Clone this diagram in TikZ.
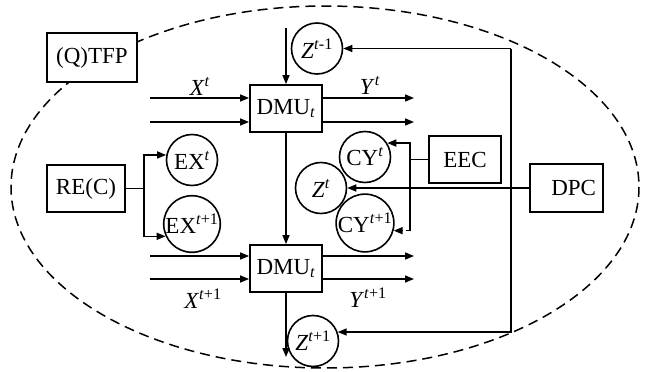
\documentclass[tikz,border=0pt]{standalone}
\usepackage{fontspec}
\setmainfont{Liberation Serif}
\usetikzlibrary{arrows.meta,calc}
\newcommand{\sps}[1]{\textsuperscript{#1}}
\begin{document}
\begin{tikzpicture}[x=1pt,y=-1pt, line width=1.6pt,
  >={Triangle[length=9pt,width=7pt]},
  box/.style={draw, fill=white, line width=1.8pt, inner sep=0pt, font=\fontsize{23}{25}\selectfont},
  circ/.style={draw, circle, fill=white, line width=1.6pt, minimum size=51pt, inner sep=0pt, font=\fontsize{23}{25}\selectfont},
  lab/.style={inner sep=0pt, font=\fontsize{23}{25}\selectfont}]
\useasboundingbox (0,0) rectangle (646,372);
\draw[line width=1.5pt, dash pattern=on 10pt off 6pt] (325,187) ellipse [x radius=314, y radius=181];

% boxes
\node[box, minimum width=90pt, minimum height=49pt] (tfp) at (92,57.5) {(Q)TFP};
\node[box, minimum width=72pt, minimum height=47pt] (dmu1) at (286,108.5) {DMU\textsubscript{\textit{t}}};
\node[box, minimum width=72pt, minimum height=47pt] (dmu2) at (286,268.5) {DMU\textsubscript{\textit{t}}};
\node[box, minimum width=78pt, minimum height=47pt] (rec) at (86,188.5) {RE(C)};
\node[box, minimum width=72pt, minimum height=47pt] (eec) at (465,159.5) {EEC};
\node[box, minimum width=73pt, minimum height=48pt, text width=59pt, align=right] (dpc) at (566.5,188) {DPC};

% circles
\node[circ] (zm1) at (317,48.5) {\textit{Z}\sps{\textit{t}-1}};
\node[circ] (zt) at (321,188) {\textit{Z}\sps{\textit{t}}};
\node[circ] (zp1) at (313,341) {\textit{Z}\sps{\textit{t}+1}};
\node[circ] (ext) at (192,160) {EX\sps{\textit{t}}};
\node[circ] (exp1) at (192,224) {EX\sps{\textit{t}+1}};
\node[circ] (cyt) at (365,157) {CY\sps{\textit{t}}};
\node[circ] (cyp1) at (365,223) {CY\sps{\textit{t}+1}};

% labels
\node[lab] (lxt) at (200,86) {\textit{X}\sps{\textit{t}}};
\node[lab] (lyt) at (370,85) {\textit{Y}\sps{\textit{t}}};
\node[lab] (lxp) at (203,299) {\textit{X}\sps{\textit{t}+1}};
\node[lab] (lyp) at (368,298) {\textit{Y}\sps{\textit{t}+1}};

% vertical flow through DMUs
\coordinate (ztop) at (286,28);
\coordinate (zbot) at (286,357);
\draw[->] (ztop) -- (dmu1.north);
\draw[->] (dmu1.south) -- (dmu2.north);
\draw[->] (dmu2.south) -- (zbot);

% inputs
\coordinate (i1) at (150,98);
\coordinate (i2) at (150,122);
\coordinate (i3) at (150,256);
\coordinate (i4) at (150,279);
\draw[->] (i1) -- (i1 -| dmu1.west);
\draw[->] (i2) -- (i2 -| dmu1.west);
\draw[->] (i3) -- (i3 -| dmu2.west);
\draw[->] (i4) -- (i4 -| dmu2.west);

% outputs
\coordinate (o1) at (414,98);
\coordinate (o2) at (414,122);
\coordinate (o3) at (414,256);
\coordinate (o4) at (414,279);
\draw[->] (dmu1.east |- o1) -- (o1);
\draw[->] (dmu1.east |- o2) -- (o2);
\draw[->] (dmu2.east |- o3) -- (o3);
\draw[->] (dmu2.east |- o4) -- (o4);

% RE(C)
\coordinate (rj) at (144,188.5);
\draw (rec.east) -- (rj);
\draw[->] (rj) |- (ext.169);
\draw[->] (rj) |- (exp1.205);

% EEC
\coordinate (cj) at (410,159.5);
\draw (eec.west) -- (cj);
\draw[->] (cj) |- (cyt.32);
\draw (cj) -- (cj |- cyp1.-15);
\draw[->, dash pattern=on 4pt off 3pt] (cj |- cyp1.-15) -- (cyp1.-15);

% DPC
\coordinate (vt) at (511,48.5);
\draw[->] (dpc.west) -- (zt);
\draw[->] (vt) -- (zm1);
\draw[->] (vt) |- (zp1.20);
\end{tikzpicture}
\end{document}
